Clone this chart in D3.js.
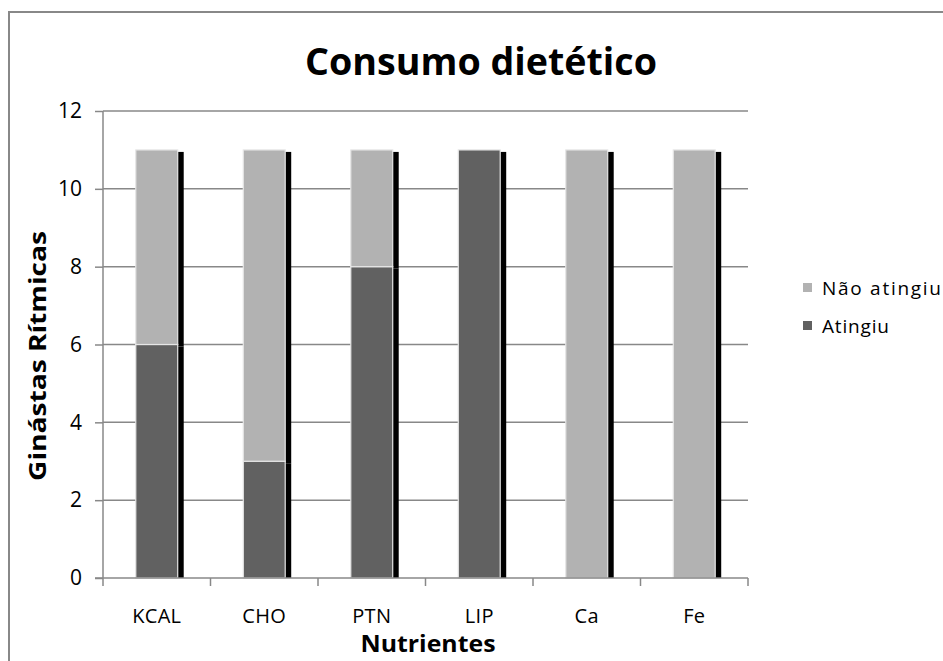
<!DOCTYPE html>
<html><head><meta charset="utf-8">
<script src="https://cdn.jsdelivr.net/npm/d3@7/dist/d3.min.js"></script>
<style>body{margin:0;background:#fff}svg{display:block}text{font-family:"Open Sans","Noto Sans",sans-serif}</style>
</head><body>
<svg id="c" width="943" height="661"></svg>
<script>
const categories = ["KCAL","CHO","PTN","LIP","Ca","Fe"];
const atingiu    = [6, 3, 8, 11, 0, 0];
const naoAtingiu = [5, 8, 3, 0, 11, 11];
const seriesNames = ["Atingiu","Não atingiu"];
const yTicks = [0,2,4,6,8,10,12];
const colors = {"Atingiu":"#616161","Não atingiu":"#b2b2b2"};

const svg = d3.select("#c");
svg.append("path").attr("d","M9,661 V12 H943").attr("fill","none").attr("stroke","#888").attr("stroke-width",2);

const L=103, R=748, T=111, B=578;
const x = d3.scaleBand().domain(categories).range([L,R]).paddingInner(0.61).paddingOuter(0.305);
const y = d3.scaleLinear().domain([0,12]).range([B,T]);

svg.append("g").selectAll("line").data(yTicks.filter(d=>d>0)).join("line")
  .attr("x1",L).attr("x2",R).attr("y1",d=>y(d)).attr("y2",d=>y(d))
  .attr("stroke","#888").attr("stroke-width",1.5);

const table = categories.map((c,i)=>({cat:c,"Atingiu":atingiu[i],"Não atingiu":naoAtingiu[i]}));
const stack = d3.stack().keys(seriesNames)(table);
const segs = [];
stack.forEach(s=>s.forEach(d=>{ if(d[1]-d[0]>0) segs.push({key:s.key,cat:d.data.cat,y0:d[0],y1:d[1]}); }));

svg.append("g").selectAll("rect").data(segs).join("rect")
  .attr("x",d=>x(d.cat)+6).attr("width",x.bandwidth())
  .attr("y",d=>y(d.y1)+2).attr("height",d=>Math.min(B, y(d.y0)+2)-(y(d.y1)+2))
  .attr("fill","#000");
svg.append("g").selectAll("rect").data(segs).join("rect")
  .attr("x",d=>x(d.cat)).attr("width",x.bandwidth())
  .attr("y",d=>y(d.y1)).attr("height",d=>y(d.y0)-y(d.y1))
  .attr("fill",d=>colors[d.key]).attr("stroke","#e6e6e6").attr("stroke-width",1.2);

const ya = svg.append("g").attr("transform",`translate(${L},0)`)
  .call(d3.axisLeft(y).tickValues(yTicks).tickSize(8).tickPadding(13));
ya.select(".domain").attr("stroke","#888").attr("stroke-width",1.5).attr("d",`M0,${T}V${B}`);
ya.selectAll(".tick line").attr("stroke","#888").attr("stroke-width",1.5);
ya.selectAll(".tick text").attr("font-size",21).attr("fill","#000").style("font-family","'Open Sans',sans-serif");

const xa = svg.append("g").attr("transform",`translate(0,${B})`)
  .call(d3.axisBottom(x).tickSize(0).tickPadding(31));
xa.select(".domain").attr("stroke","#888").attr("stroke-width",1.5).attr("d",`M95,0H${R}`);
xa.selectAll(".tick text").attr("font-size",20).attr("fill","#000").attr("letter-spacing",0.3).style("font-family","'Open Sans',sans-serif");
const bounds = categories.map((c,i)=>L+i*(R-L)/categories.length).concat([R]);
xa.append("g").selectAll("line").data(bounds).join("line")
  .attr("x1",d=>d).attr("x2",d=>d).attr("y1",0).attr("y2",8).attr("stroke","#888").attr("stroke-width",1.5);

svg.append("text").attr("x",481).attr("y",75).attr("text-anchor","middle")
  .attr("font-size",38).attr("font-weight","bold").attr("textLength",352).attr("lengthAdjust","spacingAndGlyphs")
  .text("Consumo dietético");
svg.append("text").attr("x",428).attr("y",652).attr("text-anchor","middle")
  .attr("font-size",23).attr("font-weight","bold").attr("textLength",135).attr("lengthAdjust","spacingAndGlyphs")
  .text("Nutrientes");
svg.append("text").attr("transform","translate(46,356) rotate(-90)").attr("text-anchor","middle")
  .attr("font-size",24).attr("font-weight","bold").attr("textLength",250).attr("lengthAdjust","spacingAndGlyphs")
  .text("Ginástas Rítmicas");

const leg = svg.append("g");
const legItems = ["Não atingiu","Atingiu"];
const legLen = {"Não atingiu":119,"Atingiu":67};
legItems.forEach((k,i)=>{
  const yy = 288 + i*38;
  leg.append("rect").attr("x",803).attr("y",yy-5).attr("width",9).attr("height",9).attr("fill",colors[k]);
  leg.append("text").attr("x",822).attr("y",yy+7).attr("font-size",19).attr("fill","#000")
    .attr("textLength",legLen[k]).attr("lengthAdjust","spacing").text(k);
});
</script>
</body></html>
